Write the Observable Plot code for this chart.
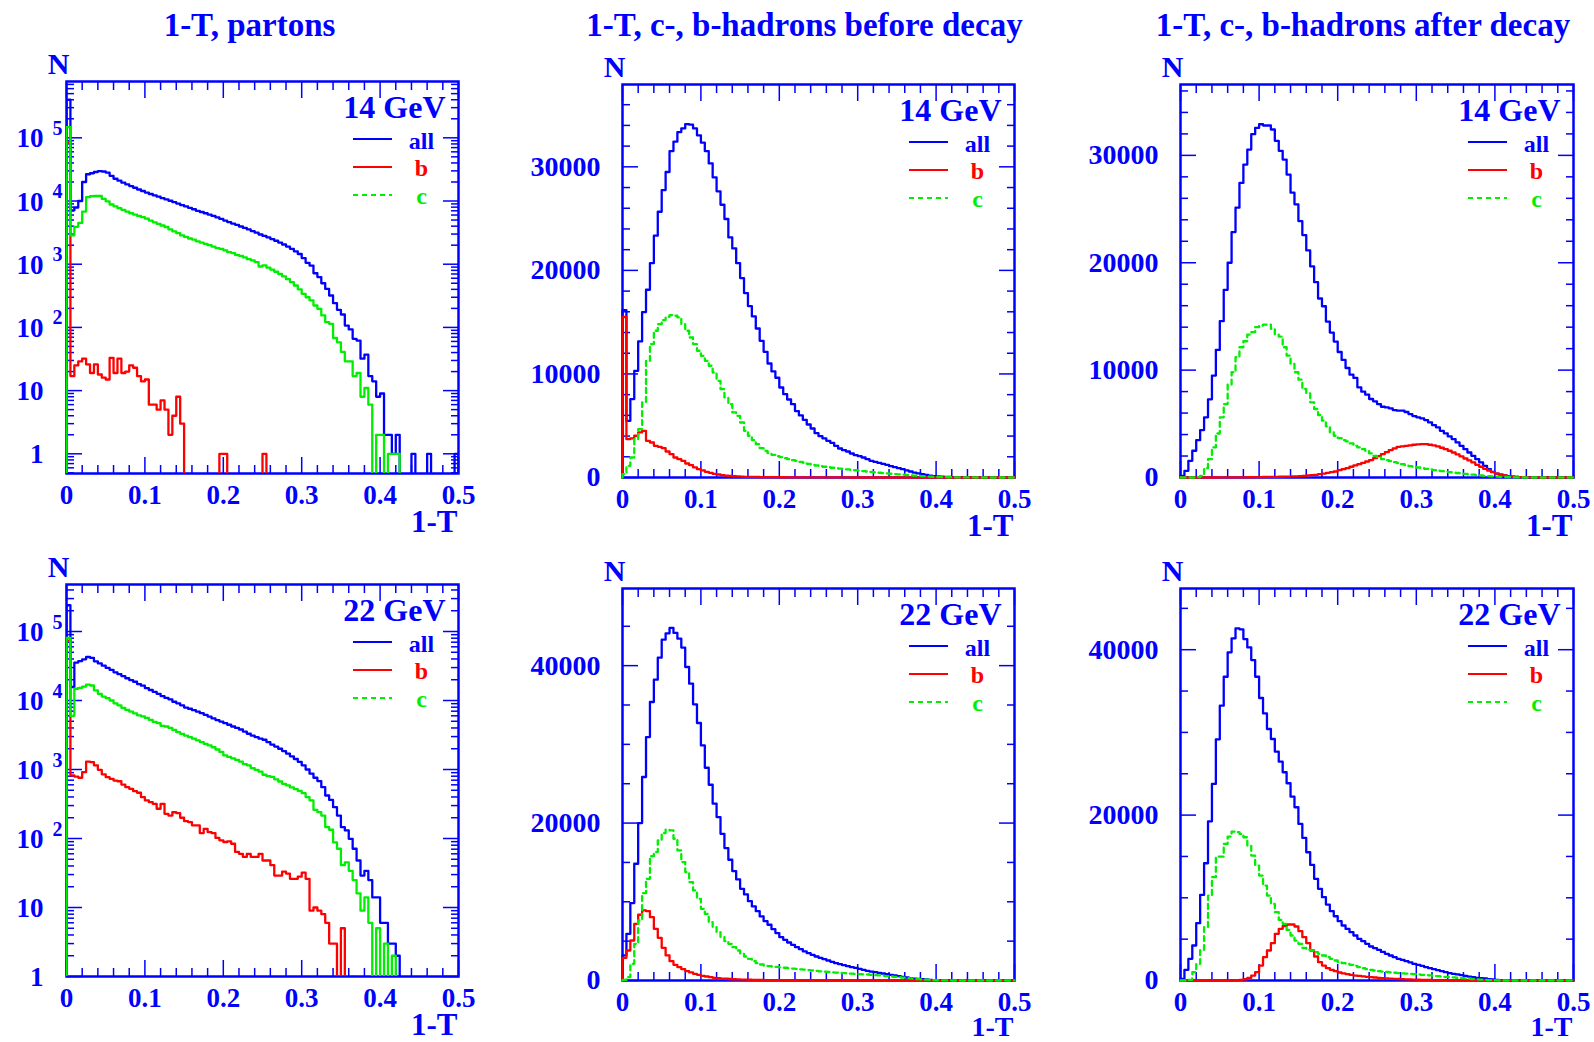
<!DOCTYPE html>
<html>
<head>
<meta charset="utf-8">
<script src="https://cdn.jsdelivr.net/npm/d3@7"></script>
<script src="https://cdn.jsdelivr.net/npm/@observablehq/plot@0.6"></script>
<style>
html, body { margin: 0; padding: 0; background: #fff; }
#chart { position: relative; width: 1594px; height: 1042px; background: #fff; overflow: hidden; }
.cell { position: absolute; }
</style>
</head>
<body>
<div id="chart"></div>
<script>
// ---------------- data: 100 bins of width 0.005 in 1-T ----------------
const BIN_WIDTH = 0.005;
const N_BINS = 100;

const titles = ["1-T, partons", "1-T, c-, b-hadrons before decay", "1-T, c-, b-hadrons after decay"];
const energies = ["14 GeV", "22 GeV"];
const legendKeys = ["all", "b", "c"];

const xMajorTicks = [0, 0.1, 0.2, 0.3, 0.4, 0.5];
const xMinorTicks = [0.02, 0.04, 0.06, 0.08, 0.12, 0.14, 0.16, 0.18, 0.22, 0.24, 0.26, 0.28, 0.32, 0.34, 0.36, 0.38, 0.42, 0.44, 0.46, 0.48];
const xTickLabels = [0, 0.1, 0.2, 0.3, 0.4, 0.5];
const logDecades = [1, 10, 100, 1000, 10000, 100000];
const logMantissas = [2, 3, 4, 5, 6, 7, 8, 9];
const yTicksBefore14 = [0, 10000, 20000, 30000];
const yMinorBefore14 = [2000, 4000, 6000, 8000, 12000, 14000, 16000, 18000, 22000, 24000, 26000, 28000, 32000, 34000, 36000];
const yTicksAfter14 = [0, 10000, 20000, 30000];
const yMinorAfter14 = [2000, 4000, 6000, 8000, 12000, 14000, 16000, 18000, 22000, 24000, 26000, 28000, 32000, 34000, 36000];
const yTicks22 = [0, 20000, 40000];
const yMinor22 = [5000, 10000, 15000, 25000, 30000, 35000, 45000];

// 14 GeV, partons
const partons14All = [400000,7100,7900,10000,20000,26500,27500,28800,29600,29300,
  28200,25000,22500,21000,19500,18300,17200,16200,15200,14400,
  13600,12900,12300,11700,11100,10600,10100,9600,9100,8600,
  8200,7800,7400,7000,6700,6400,6100,5800,5500,5200,
  4900,4650,4400,4200,3950,3750,3550,3350,3150,2950,
  2800,2650,2500,2350,2200,2050,1900,1750,1600,1450,
  1250,1050,950,720,625,500,407,320,242,190,
  160,107,93,66,62,32,37,17,14,8,
  9,2,2,1,2,0,0,0,1,0,
  0,0,1,0,0,0,0,0,0,1];
const partons14B = [85000,17,25,29,32,26,19,26,18,16,
  15,33,19,32,19,20,25,23,17,14,
  15,6,6,5,7,5,2,4,8,3,
  0,0,0,0,0,0,0,0,0,1,
  1,0,0,0,0,0,0,0,0,0,
  1,0,0,0,0,0,0,0,0,0,
  0,0,0,0,0,0,0,0,0,0,
  0,0,0,0,0,0,0,0,0,0,
  0,0,0,0,0,0,0,0,0,0,
  0,0,0,0,0,0,0,0,0,0];
const partons14C = [148000,2850,3900,4500,6800,11500,11900,12000,12000,10800,
  9900,8800,8200,7700,7250,6800,6400,6100,5800,5550,
  5250,4900,4600,4350,4100,3880,3550,3300,3100,2850,
  2700,2550,2450,2300,2200,2100,2000,1900,1800,1750,
  1650,1550,1500,1400,1350,1280,1200,1150,1080,920,
  960,880,820,760,700,640,580,520,460,400,
  340,300,267,222,197,155,121,114,68,58,
  41,29,29,17,19,8,11,6,0,2,
  2,0,1,1,1,0,0,0,0,0,
  0,0,0,0,0,0,0,0,0,0];

// 14 GeV, hadrons before decay
const before14All = [16160,5470,7570,10300,13140,15970,18130,20700,23350,25660,
  27760,29500,31520,32430,33360,33710,34130,34070,33710,33040,
  32330,31520,30330,28980,27630,26340,24960,23180,22120,20700,
  19260,17810,16550,15550,14390,13200,12140,11010,10240,9630,
  8690,8050,7530,7080,6410,5990,5570,5120,4730,4280,
  3990,3770,3540,3350,3060,2800,2640,2510,2320,2160,
  2060,1930,1770,1610,1510,1420,1320,1220,1090,1000,
  900,800,680,580,480,390,320,260,190,130,
  100,80,60,50,40,30,25,20,15,10,
  8,6,5,4,3,2,2,1,1,0];
const before14B = [15500,3700,3770,4030,4350,4510,3540,3380,3060,2960,
  2830,2510,2250,1930,1770,1610,1350,1190,970,800,
  680,550,450,350,290,225,190,150,120,100,
  80,70,60,55,50,45,40,35,30,28,
  25,22,20,18,16,14,12,10,9,8,
  7,6,5,5,4,4,3,3,2,2,
  2,1,1,1,1,1,0,0,0,0,
  0,0,0,0,0,0,0,0,0,0,
  0,0,0,0,0,0,0,0,0,0,
  0,0,0,0,0,0,0,0,0,0];
const before14C = [320,1130,1930,3700,4670,7250,11270,12880,14170,14810,
  15200,15520,15680,15620,15460,14810,14170,13520,12880,12240,
  11750,11270,10790,10140,9340,8530,7730,7080,6280,5960,
  5310,4510,4030,3610,3220,2830,2580,2350,2190,2060,
  1960,1870,1770,1670,1610,1510,1420,1320,1220,1160,
  1090,1040,990,940,900,860,820,780,740,700,
  660,620,580,540,500,460,420,390,360,330,
  300,270,240,210,180,150,130,110,90,70,
  50,40,30,25,20,15,10,8,5,3,
  2,0,0,0,0,0,0,0,0,0];

// 14 GeV, hadrons after decay
const after14All = [150,620,1550,2490,3480,4420,5600,7280,9490,11880,
  14560,17480,20000,22860,25130,27430,29140,30540,31970,32560,
  32900,32780,32780,32410,31350,30420,29610,28210,26530,25440,
  23880,22580,21150,19660,18190,16670,15950,14520,13500,12660,
  11690,10950,10200,9580,9270,8400,7990,7710,7310,7090,
  6840,6590,6530,6440,6280,6220,6220,6100,5910,5720,
  5600,5500,5350,5130,4880,4670,4350,4110,3830,3580,
  3270,2950,2640,2330,2020,1710,1400,1090,780,530,
  370,250,190,120,90,60,40,30,20,10,
  0,0,0,0,0,0,0,0,0,0];
const after14B = [0,0,0,0,0,0,0,0,0,0,
  5,8,10,12,15,18,20,25,30,35,
  40,45,50,55,60,70,80,90,100,110,
  120,150,190,220,250,310,370,440,500,560,
  680,780,870,1000,1120,1240,1370,1490,1620,1800,
  1990,2180,2360,2550,2710,2860,2890,2950,2990,3050,
  3080,3110,3110,3050,2990,2890,2770,2640,2490,2330,
  2150,1960,1770,1590,1400,1180,1000,810,650,500,
  370,280,190,120,90,60,40,30,20,10,
  5,0,0,0,0,0,0,0,0,0];
const after14C = [0,0,0,0,30,160,870,1710,2800,4100,
  5600,6840,8650,9800,11200,12130,12690,13310,13530,14000,
  14150,14240,14240,13840,13310,13120,12130,11350,10570,9800,
  9110,8240,7840,7000,6380,5820,5290,4760,4200,3890,
  3670,3480,3360,3170,2950,2800,2640,2490,2240,2020,
  1870,1710,1620,1520,1430,1340,1240,1150,1060,1000,
  930,870,810,750,690,640,590,540,500,460,
  420,380,340,300,260,220,190,160,130,100,
  80,60,45,30,20,10,0,0,0,0,
  0,0,0,0,0,0,0,0,0,0];

// 22 GeV, partons
const partons22All = [240000,15700,35500,37300,39500,42700,41500,37000,34500,32000,
  29700,27800,25600,24100,22600,21000,19800,18700,17300,16400,
  15100,14200,13300,12500,11600,10900,10400,9600,9100,8500,
  7900,7600,7250,6900,6550,6200,5850,5500,5200,4950,
  4700,4450,4200,4000,3800,3550,3300,3100,2950,2800,
  2700,2500,2300,2150,2000,1850,1700,1550,1420,1290,
  1150,1000,870,760,680,554,420,362,284,215,
  146,131,99,71,48,29,34,25,14,14,
  6,6,3,3,2,0,0,0,0,0,
  0,0,0,0,0,0,0,0,0,0];
const partons22B = [74000,820,790,760,915,1300,1280,1150,990,850,
  775,733,690,676,605,554,525,485,460,397,
  356,336,318,270,318,228,215,240,233,200,
  178,173,155,155,120,138,124,120,102,94,
  89,91,84,64,60,54,60,54,54,60,
  48,48,41,29,29,33,31,26,26,28,
  32,26,9,10,9,8,6,3,3,0,
  5,0,0,1,0,0,0,0,0,0,
  0,0,0,0,0,0,0,0,0,0,
  0,0,0,0,0,0,0,0,0,0];
const partons22C = [81000,6000,14800,15200,15900,17000,16500,14000,12500,11400,
  10800,10000,9100,8500,7800,7300,6900,6500,6100,5900,
  5600,5250,4900,4700,4300,4200,4000,3750,3470,3290,
  3100,2950,2800,2650,2500,2350,2230,2100,1950,1800,
  1600,1520,1450,1380,1300,1200,1150,1050,990,930,
  840,800,780,720,670,620,590,550,520,490,
  454,398,356,260,241,215,146,134,88,71,
  41,45,34,25,16,9,14,6,0,5,
  0,3,0,2,0,0,0,0,0,0,
  0,0,0,0,0,0,0,0,0,0];

// 22 GeV, hadrons before decay
const before22All = [3180,5930,9830,14830,20000,25850,30930,35380,38220,41010,
  43300,44110,44790,44150,43430,42290,39830,37710,35080,32710,
  29870,27030,24870,22460,20760,18640,16820,15340,13900,12840,
  11650,10930,10080,9410,8810,8140,7540,7080,6520,6020,
  5510,5170,4830,4530,4240,3980,3690,3470,3260,3050,
  2880,2710,2540,2370,2200,2080,1950,1820,1690,1610,
  1480,1360,1230,1140,1060,970,890,800,720,640,
  550,470,380,300,250,210,170,130,90,50,
  30,20,10,0,0,0,0,0,0,0,
  0,0,0,0,0,0,0,0,0,0];
const before22B = [2880,3810,5080,7200,8350,8900,8810,8050,6570,5420,
  4150,3180,2460,1990,1690,1440,1190,1020,850,720,
  590,510,420,340,300,250,220,190,160,140,
  120,105,95,85,75,65,58,52,46,40,
  35,31,28,25,22,20,18,16,14,12,
  10,9,8,7,6,5,4,4,3,3,
  2,2,1,1,0,0,0,0,0,0,
  0,0,0,0,0,0,0,0,0,0,
  0,0,0,0,0,0,0,0,0,0,
  0,0,0,0,0,0,0,0,0,0];
const before22C = [80,420,2120,4660,7630,11100,12920,15800,16310,17800,
  18730,19150,19070,18010,16520,15040,13770,12500,11440,10380,
  9110,8470,7410,6780,6140,5510,5000,4660,4240,3810,
  3390,3050,2750,2460,2200,2030,1900,1830,1770,1720,
  1670,1620,1570,1520,1470,1420,1370,1320,1270,1220,
  1170,1120,1080,1040,1000,960,930,900,870,840,
  820,790,760,720,680,640,600,560,510,460,
  410,360,310,260,210,170,130,100,70,50,
  30,20,12,6,3,0,0,0,0,0,
  0,0,0,0,0,0,0,0,0,0];

// 22 GeV, hadrons after decay
const after22All = [200,1290,2620,4230,6930,10350,14180,19250,23770,29160,
  33230,36730,39680,41370,42580,42460,41290,40280,38750,36730,
  34160,32300,30410,29200,27670,26460,25180,23850,22230,20950,
  18930,17240,15510,13980,12290,11080,10070,9180,8380,7770,
  7170,6650,6240,5840,5440,5040,4750,4430,4110,3910,
  3710,3460,3220,3020,2820,2620,2500,2340,2180,2010,
  1890,1770,1610,1490,1370,1250,1130,1010,890,810,
  730,640,560,480,400,320,280,240,160,120,
  80,50,30,15,0,0,0,0,0,0,
  0,0,0,0,0,0,0,0,0,0];
const after22B = [0,0,0,0,0,0,0,0,0,0,
  5,10,20,30,50,80,150,300,600,1010,
  1810,2820,3630,4510,5640,6240,6570,6770,6770,6530,
  5960,5240,4510,3630,2900,2210,1810,1490,1290,1130,
  970,850,770,680,600,560,500,450,400,360,
  320,290,260,230,200,180,160,140,120,100,
  90,80,70,60,50,45,40,35,30,25,
  20,15,12,10,8,6,5,4,3,2,
  1,0,0,0,0,0,0,0,0,0,
  0,0,0,0,0,0,0,0,0,0];
const after22C = [0,0,80,1010,2010,3710,6440,10270,12490,14980,
  14980,16520,17400,18010,17930,17720,17320,16310,15110,13900,
  12690,11480,10270,9260,8260,7330,6850,6120,5440,4830,
  4430,3950,3710,3630,3420,3220,3020,2820,2620,2420,
  2220,2090,2010,1890,1770,1610,1490,1370,1290,1210,
  1130,1080,1030,980,940,900,860,820,790,760,
  730,690,650,610,570,530,490,450,410,370,
  330,290,250,210,170,130,100,70,50,30,
  15,0,0,0,0,0,0,0,0,0,
  0,0,0,0,0,0,0,0,0,0];

// ---------------- drawing ----------------
const BLUE = "#0000ff", RED = "#ff0000", GREEN = "#00ee00";
const FONT = "'Liberation Serif', 'Times New Roman', Times, serif";
const DASH = "5,4";

function histPoints(values, floor) {
  const pts = [{x: 0, y: floor}];
  values.forEach((v, i) => pts.push({x: i * BIN_WIDTH, y: v > 0 ? v : floor}));
  const last = values[values.length - 1];
  pts.push({x: values.length * BIN_WIDTH, y: last > 0 ? last : floor});
  pts.push({x: values.length * BIN_WIDTH, y: floor});
  return pts;
}

function logMinor(domain) {
  const out = [];
  for (let e = -1; e <= 6; e++) for (const m of logMantissas) {
    const v = m * Math.pow(10, e);
    if (v >= domain[0] && v <= domain[1]) out.push(v);
  }
  return out;
}

function legendLines(index, scales, values, dims) {
  const g = d3.create("svg:g");
  const x2 = dims.width - dims.marginRight - 66, x1 = x2 - 39;
  const rows = [[58, BLUE, null], [86, RED, null], [114, GREEN, DASH]];
  for (const [dy, color, dash] of rows) {
    g.append("line")
      .attr("x1", x1).attr("x2", x2)
      .attr("y1", dims.marginTop + dy).attr("y2", dims.marginTop + dy)
      .attr("stroke", color).attr("stroke-width", 2.2)
      .attr("stroke-dasharray", dash);
  }
  return g.node();
}

function makePanel(p) {
  // on log panels, empty bins fall far below the frame and are clipped away
  const floor = p.log ? 1e-3 : 0;
  const yMinor = p.log ? logMinor(p.domain) : p.yMinor;
  const tick = {fill: "none", label: null, stroke: BLUE, strokeWidth: 1.5};
  const histo = {x: "x", y: "y", curve: "step-after", strokeWidth: 2.3, clip: p.log ? true : false};
  const marks = [
    Plot.frame({stroke: BLUE, strokeWidth: 2.5}),
    Plot.axisX({...tick, anchor: "bottom", ticks: xMajorTicks, tickSize: 16, dy: -16}),
    Plot.axisX({...tick, anchor: "top", ticks: xMajorTicks, tickSize: 16, dy: 16}),
    Plot.axisX({...tick, anchor: "bottom", ticks: xMinorTicks, tickSize: 8, dy: -8}),
    Plot.axisX({...tick, anchor: "top", ticks: xMinorTicks, tickSize: 8, dy: 8}),
    Plot.axisY({...tick, anchor: "left", ticks: p.yMajor, tickSize: 16, dx: 16}),
    Plot.axisY({...tick, anchor: "right", ticks: p.yMajor, tickSize: 16, dx: -16}),
    Plot.axisY({...tick, anchor: "left", ticks: yMinor, tickSize: 8, dx: 8}),
    Plot.axisY({...tick, anchor: "right", ticks: yMinor, tickSize: 8, dx: -8}),
    Plot.axisX({anchor: "bottom", ticks: xTickLabels, tickSize: 0, tickPadding: 11,
      tickFormat: d => String(d), label: null, fill: BLUE, fontSize: 27, fontWeight: "bold"})
  ];
  if (p.log) {
    marks.push(Plot.text(p.yMajor, {y: d => d, frameAnchor: "left", dx: -23, dy: 1,
      textAnchor: "end", lineAnchor: "middle", text: d => d >= 100 ? "10" : String(d),
      fill: BLUE, fontSize: 27, fontWeight: "bold"}));
    marks.push(Plot.text(p.yMajor.filter(d => d >= 100), {y: d => d, frameAnchor: "left", dx: -14, dy: -3,
      textAnchor: "start", lineAnchor: "bottom", text: d => String(Math.round(Math.log10(d))),
      fill: BLUE, fontSize: 20, fontWeight: "bold"}));
  } else {
    marks.push(Plot.axisY({anchor: "left", ticks: p.yMajor, tickSize: 0, tickPadding: 22,
      tickFormat: d => String(d), label: null, fill: BLUE, fontSize: 28, fontWeight: "bold"}));
  }
  marks.push(
    Plot.line(histPoints(p.all, floor), {...histo, stroke: BLUE}),
    Plot.line(histPoints(p.b, floor), {...histo, stroke: RED}),
    Plot.line(histPoints(p.c, floor), {...histo, stroke: GREEN, strokeDasharray: p.log ? null : DASH}),
    Plot.text(["N"], {frameAnchor: "top-left", dx: -8, dy: -8, textAnchor: "middle", lineAnchor: "bottom",
      fill: BLUE, fontSize: 30, fontWeight: "bold"}),
    Plot.text(["1-T"], {frameAnchor: "bottom-right", dx: -1, dy: p.axisLabelDy, textAnchor: "end", lineAnchor: "bottom",
      fill: BLUE, fontSize: p.axisLabelSize, fontWeight: "bold"}),
    Plot.text([p.energy], {frameAnchor: "top-right", dx: -13, dy: 36, textAnchor: "end", lineAnchor: "bottom",
      fill: BLUE, fontSize: 32, fontWeight: "bold"}),
    Plot.text([legendKeys[0]], {frameAnchor: "top-right", dx: -37, dy: 67, textAnchor: "middle", lineAnchor: "bottom",
      fill: BLUE, fontSize: 24, fontWeight: "bold"}),
    Plot.text([legendKeys[1]], {frameAnchor: "top-right", dx: -37, dy: 94, textAnchor: "middle", lineAnchor: "bottom",
      fill: RED, fontSize: 24, fontWeight: "bold"}),
    Plot.text([legendKeys[2]], {frameAnchor: "top-right", dx: -37, dy: 122, textAnchor: "middle", lineAnchor: "bottom",
      fill: GREEN, fontSize: 24, fontWeight: "bold"}),
    legendLines
  );
  if (p.title) {
    marks.push(Plot.text([p.title], {frameAnchor: "top", dx: p.titleDx, dy: 35 - p.mt, lineAnchor: "bottom",
      textAnchor: "middle", fill: BLUE, fontSize: 33, fontWeight: "bold"}));
  }
  const svg = Plot.plot({
    width: p.w, height: p.h,
    marginLeft: p.ml, marginRight: p.mr, marginTop: p.mt, marginBottom: p.mb,
    x: {domain: [0, 0.5]},
    y: {type: p.log ? "log" : "linear", domain: p.domain, clamp: !p.log},
    style: {fontFamily: FONT, fontWeight: "bold", color: BLUE, background: "transparent", overflow: "visible"},
    marks
  });
  const div = document.createElement("div");
  div.className = "cell";
  div.style.left = p.left + "px";
  div.style.top = p.top + "px";
  div.appendChild(svg);
  document.getElementById("chart").appendChild(div);
}

const panels = [
  {left: 0, top: 0, w: 531, h: 540, ml: 66, mr: 73, mt: 81, mb: 67, log: true, domain: [0.488, 7.78e5], axisLabelDy: 58, axisLabelSize: 31,
   yMajor: logDecades, all: partons14All, b: partons14B, c: partons14C, energy: energies[0], title: titles[0], titleDx: -13},
  {left: 531, top: 0, w: 531, h: 540, ml: 91, mr: 48, mt: 84, mb: 63, log: false, domain: [0, 37950], axisLabelDy: 58, axisLabelSize: 31,
   yMajor: yTicksBefore14, yMinor: yMinorBefore14, all: before14All, b: before14B, c: before14C, energy: energies[0], title: titles[1], titleDx: -14},
  {left: 1062, top: 0, w: 532, h: 540, ml: 118, mr: 21, mt: 84, mb: 63, log: false, domain: [0, 36600], axisLabelDy: 58, axisLabelSize: 31,
   yMajor: yTicksAfter14, yMinor: yMinorAfter14, all: after14All, b: after14B, c: after14C, energy: energies[0], title: titles[2], titleDx: -14},
  {left: 0, top: 540, w: 531, h: 502, ml: 66, mr: 73, mt: 44, mb: 66, log: true, domain: [1, 4.8e5], axisLabelDy: 58, axisLabelSize: 31,
   yMajor: logDecades, all: partons22All, b: partons22B, c: partons22C, energy: energies[1]},
  {left: 531, top: 540, w: 531, h: 502, ml: 91, mr: 48, mt: 48, mb: 62, log: false, domain: [0, 49800], axisLabelDy: 55, axisLabelSize: 28,
   yMajor: yTicks22, yMinor: yMinor22, all: before22All, b: before22B, c: before22C, energy: energies[1]},
  {left: 1062, top: 540, w: 532, h: 502, ml: 118, mr: 21, mt: 48, mb: 62, log: false, domain: [0, 47400], axisLabelDy: 55, axisLabelSize: 28,
   yMajor: yTicks22, yMinor: yMinor22, all: after22All, b: after22B, c: after22C, energy: energies[1]}
];
panels.forEach(makePanel);
</script>
</body>
</html>
